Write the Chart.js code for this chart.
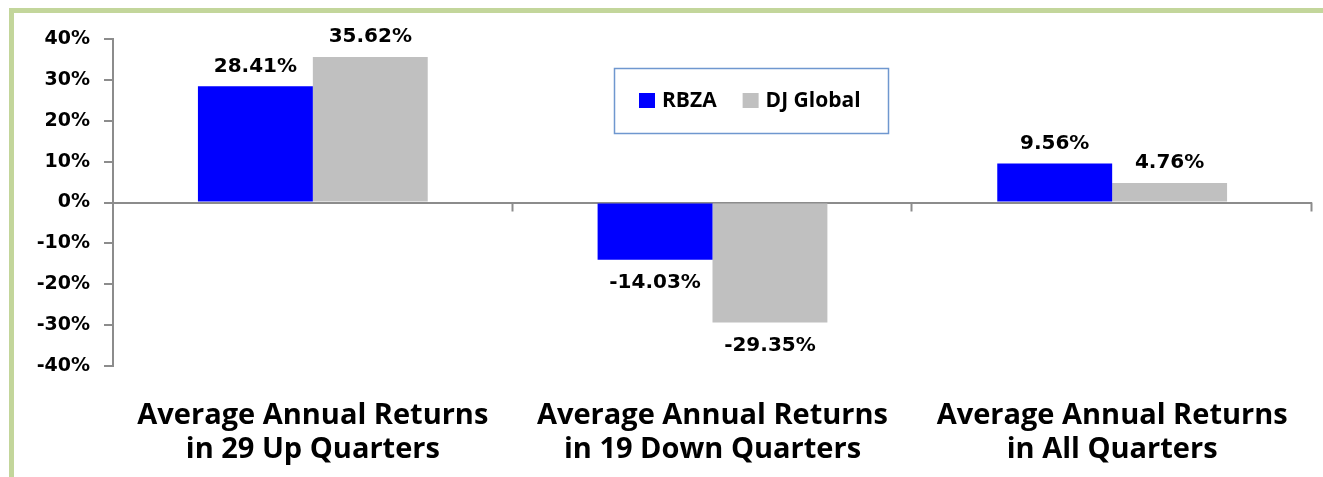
<!DOCTYPE html>
<html lang="en">
<head>
  <meta charset="UTF-8" />
  <title>Average Annual Returns</title>
  <script src="https://cdn.jsdelivr.net/npm/chart.js@4.4.1/dist/chart.umd.min.js"></script>
  <style>
    body { margin: 0; background: #fff; }
    .frame {
      position: absolute; left: 9px; top: 8px; right: 0; bottom: 0;
      border-top: 5px solid #C3D69B; border-left: 5px solid #C3D69B;
    }
    .wrap { position: absolute; left: 0; top: 0; width: 1323px; height: 477px; }
  </style>
</head>
<body>
  <div class="frame"></div>
  <div class="wrap"><canvas id="chart"></canvas></div>

<script>
  const categories = [
    ['Average Annual Returns', 'in 29 Up Quarters'],
    ['Average Annual Returns', 'in 19 Down Quarters'],
    ['Average Annual Returns', 'in All Quarters']
  ];
  const rbza = [28.41, -14.03, 9.56];
  const djGlobal = [35.62, -29.35, 4.76];
  const yTicks = [-40, -30, -20, -10, 0, 10, 20, 30, 40];

  const axisGray = '#8C8C8C';

  // value labels above / below each bar
  const valueLabels = {
    id: 'valueLabels',
    afterDatasetsDraw(chart) {
      const ctx = chart.ctx;
      ctx.save();
      ctx.font = 'bold 20px "DejaVu Sans"';
      ctx.fillStyle = '#000';
      ctx.textAlign = 'center';
      ctx.textBaseline = 'middle';
      chart.data.datasets.forEach((ds, i) => {
        chart.getDatasetMeta(i).data.forEach((bar, j) => {
          const v = ds.data[j];
          const y = v >= 0 ? bar.y - 20 : bar.y + 23;
          ctx.fillText(v.toFixed(2) + '%', bar.x, y);
        });
      });
      ctx.restore();
    }
  };

  // little tick marks hanging from the zero line between categories
  const categoryTicks = {
    id: 'categoryTicks',
    afterDraw(chart) {
      const { ctx, chartArea } = chart;
      const y0 = chart.scales.y.getPixelForValue(0);
      const step = (chartArea.right - chartArea.left) / categories.length;
      ctx.save();
      ctx.strokeStyle = axisGray;
      ctx.lineWidth = 2;
      for (let i = 1; i <= categories.length; i++) {
        const x = Math.round(chartArea.left + i * step) - 0.5;
        ctx.beginPath();
        ctx.moveTo(x, y0);
        ctx.lineTo(x, y0 + 9);
        ctx.stroke();
      }
      ctx.restore();
    }
  };

  // boxed legend sitting inside the plot area
  const boxLegend = {
    id: 'boxLegend',
    afterDraw(chart) {
      const { ctx, chartArea } = chart;
      const bx = chartArea.left + 501, by = chartArea.top + 29;
      ctx.save();
      ctx.fillStyle = '#fff';
      ctx.fillRect(bx, by, 274, 65);
      ctx.strokeStyle = '#6F97CF';
      ctx.lineWidth = 1.5;
      ctx.strokeRect(bx + 0.5, by + 0.5, 274, 65);
      ctx.font = 'bold 21px "Open Sans"';
      ctx.textBaseline = 'middle';
      const cy = by + 33;
      let x = bx + 25;
      chart.data.datasets.forEach(ds => {
        ctx.fillStyle = ds.backgroundColor;
        ctx.fillRect(x, cy - 8, 16, 15);
        ctx.fillStyle = '#000';
        ctx.fillText(ds.label, x + 23, cy);
        x += 23 + ctx.measureText(ds.label).width + 26;
      });
      ctx.restore();
    }
  };

  new Chart(document.getElementById('chart'), {
    type: 'bar',
    data: {
      labels: categories,
      datasets: [
        { label: 'RBZA', data: rbza, backgroundColor: '#0000FF' },
        { label: 'DJ Global', data: djGlobal, backgroundColor: '#C0C0C0' }
      ]
    },
    options: {
      responsive: true,
      maintainAspectRatio: false,
      animation: false,
      layout: { padding: { left: 0, right: 11, top: 39, bottom: 0 } },
      datasets: { bar: { barPercentage: 1, categoryPercentage: 0.575 } },
      plugins: { legend: { display: false }, tooltip: { enabled: false } },
      scales: {
        x: {
          grid: { display: false },
          border: { display: false },
          ticks: {
            color: '#000',
            padding: 25,
            maxRotation: 0,
            font: { family: 'Open Sans', weight: 'bold', size: 29, lineHeight: 1.17 }
          },
          afterFit(scale) { scale.height = 111; }
        },
        y: {
          min: -40,
          max: 40,
          afterBuildTicks(scale) { scale.ticks = yTicks.map(v => ({ value: v })); },
          grid: {
            color: ctx => ctx.tick && ctx.tick.value === 0 ? axisGray : 'rgba(0,0,0,0)',
            tickColor: axisGray,
            tickLength: 9,
            lineWidth: 2
          },
          border: { color: axisGray, width: 2 },
          ticks: {
            color: '#000',
            padding: 14,
            font: { family: 'DejaVu Sans', weight: 'bold', size: 19 },
            callback: v => v + '%'
          },
          afterFit(scale) { scale.width = 113; }
        }
      }
    },
    plugins: [valueLabels, categoryTicks, boxLegend]
  });
</script>
</body>
</html>
